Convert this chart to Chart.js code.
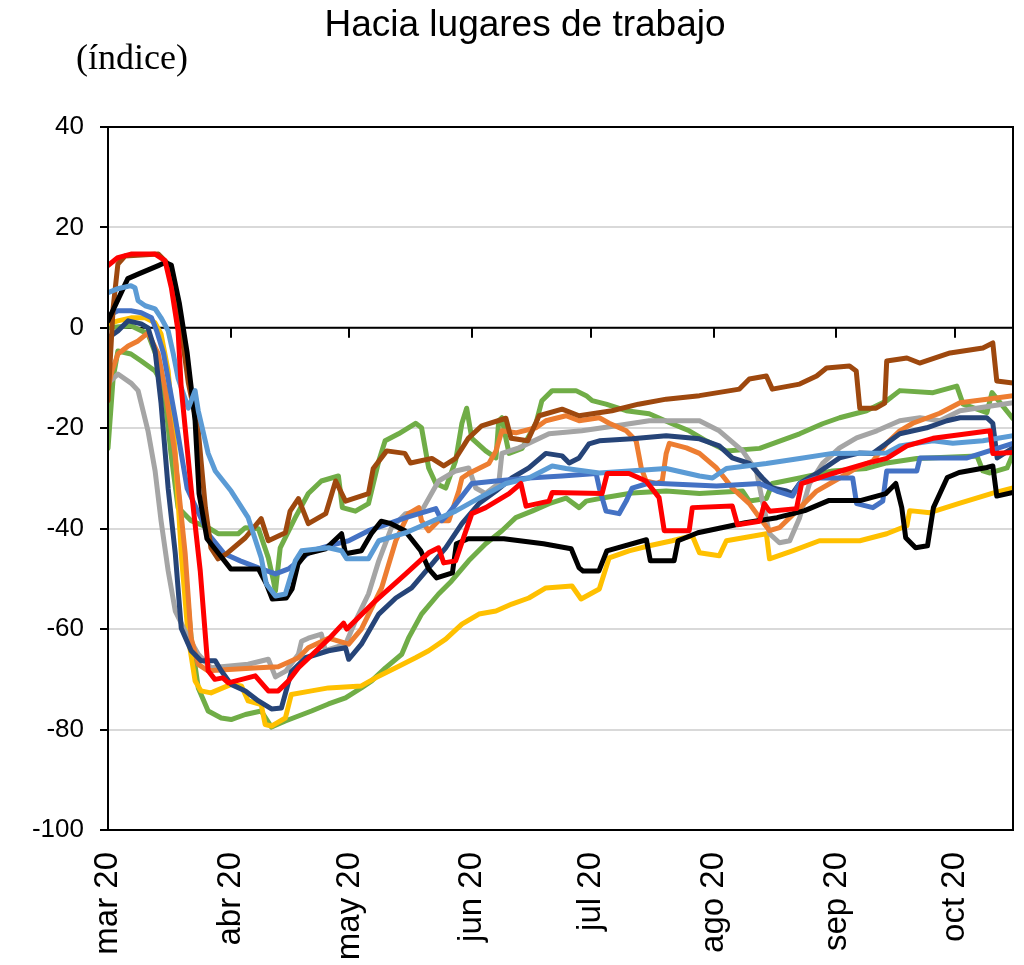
<!DOCTYPE html>
<html>
<head>
<meta charset="utf-8">
<script src="https://cdn.jsdelivr.net/npm/chart.js@4.4.0/dist/chart.umd.min.js"></script>
<style>
  body { margin: 0; background: #fff; }
  #wrap { width: 1024px; height: 965px; position: relative; }
</style>
</head>
<body>
<div id="wrap"><canvas id="grafico"></canvas></div>
<script>
// Eje x: días desde el 1 de marzo de 2020
const inicioMes = [0, 31, 61, 92, 122, 153, 184, 214];
const etiquetasMes = ['mar 20', 'abr 20', 'may 20', 'jun 20', 'jul 20', 'ago 20', 'sep 20', 'oct 20'];
const diaFinal = 228.6;
const ticksY = [40, 20, 0, -20, -40, -60, -80, -100];

// Series: [día, índice]
const rojo = [[0,12.4],[2.5,14],[5.8,14.7],[11.9,14.7],[14.4,13.4],[16,8],[17.7,-0.6],[18.5,-12],[21,-32],[23.3,-48.4],[25.3,-68.3],[27,-70],[29,-69.7],[30.4,-70.7],[37.2,-69.3],[40.5,-72.3],[43,-72.3],[45.6,-70.3],[48.1,-67.7],[55.7,-62],[59.5,-58.8],[60.3,-60],[67.5,-54.4],[75.2,-49],[81,-44.8],[83.5,-43.8],[84.8,-46.8],[87.8,-46.4],[91.9,-37],[95.4,-35.8],[101.3,-33],[104.3,-31],[105.6,-35.5],[111.4,-34.5],[112.2,-32.8],[124.8,-33],[126.1,-29],[131.6,-29],[135.9,-30.5],[139.2,-33.8],[140.5,-40.4],[146.8,-40.4],[147.6,-35.8],[157.7,-35.5],[159,-39.2],[164.6,-38.5],[165.8,-35],[167.1,-36.5],[173.9,-36],[175.2,-31],[183,-29],[191.6,-27],[196.7,-26],[201.8,-23.5],[208.4,-22],[222.8,-20.5],[223.5,-25],[228.6,-24.8]];
const celeste = [[0,7],[2.5,7.8],[5.8,8.4],[6.8,8],[7.6,5.4],[9.4,4.4],[11.9,3.8],[13.4,2],[15.2,-0.6],[16.5,-5.2],[17.7,-10],[20.3,-16],[22,-12.5],[22.8,-16.5],[25.3,-25],[27.1,-28.5],[31.1,-32.5],[35.4,-37.8],[38.7,-45.8],[40,-51],[42.3,-53.4],[44.8,-53],[47.3,-46.4],[48.9,-44.4],[55.7,-43.8],[59,-44.4],[60.3,-46],[65.8,-46],[68.4,-42.4],[75.2,-40.8],[81,-38.8],[87.8,-36.5],[93.7,-33.9],[100.5,-31],[106.3,-29.9],[112.2,-27.5],[115.7,-28],[124.1,-28.9],[141,-28],[149.4,-29.5],[152.7,-29.9],[156.2,-28],[166.3,-27],[174.7,-26],[183,-25],[196.7,-24.9],[200,-23.5],[208.4,-22.5],[213.4,-23],[221,-22.5],[228.6,-21.5]];
const negro = [[0,1.4],[5,9.8],[7.6,10.7],[12.7,12.4],[14.4,13],[16,12.5],[18,5],[20,-5],[22,-18.5],[23,-33],[25,-42],[28,-45],[31,-48],[38,-48],[40,-51],[41.5,-54],[45,-53.8],[46.5,-52],[48,-47],[50,-45],[55,-44],[59,-41],[60,-45],[64,-44.4],[66.5,-41],[69,-38.5],[71.5,-39],[75,-40.4],[79,-44.4],[81,-48],[83,-49.8],[87,-48.8],[88,-43],[91,-42],[100,-42],[110,-43],[117,-44],[119,-47.8],[120,-48.4],[124,-48.4],[126,-44.4],[136,-42.2],[137,-46.4],[143,-46.4],[144,-42.4],[149,-40.8],[161,-38.8],[169,-37.8],[176,-36.4],[182,-34.4],[190,-34.4],[196.5,-33],[199,-31],[200.5,-35.8],[201.5,-41.8],[204,-43.8],[207,-43.4],[208.5,-35.8],[212,-29.8],[215,-28.8],[222,-27.8],[223.5,-27.5],[224.5,-33.5],[228.6,-32.8]];
const marron = [[0,-14.5],[1.3,4],[2.5,12.7],[4.3,14.3],[12.7,14.7],[15.2,12.7],[17,8],[18.5,-0.6],[20.3,-11],[22.8,-20.5],[24.6,-35.8],[26,-43.8],[27.8,-46],[29.9,-45],[34.7,-41.8],[38.7,-38],[40.5,-42.4],[44.8,-40.8],[46,-36.5],[48.1,-34],[50.6,-39],[55,-37],[57.5,-30.5],[60,-34.5],[65.8,-33],[67,-28],[70.4,-24.5],[75,-25],[76.4,-26.9],[81.8,-26],[84.8,-27.5],[87.8,-26],[91,-22],[94.4,-19.5],[100.5,-18],[101.8,-22],[106,-22.5],[108.9,-17.5],[114.7,-16.2],[119,-17.5],[127.3,-16.5],[134,-15.2],[141,-14.2],[149.4,-13.5],[159.5,-12.2],[162,-10.2],[166.3,-9.6],[167.8,-12.2],[174.7,-11.2],[179,-9.6],[181.5,-8],[187.3,-7.6],[189,-8.6],[189.9,-16],[194,-16],[196.2,-15],[196.7,-6.6],[201.8,-6],[205,-7],[212.7,-5],[221,-4],[223.5,-3],[224.5,-10.6],[228.6,-11]];
const azul = [[0,2.4],[2.5,3.4],[5.8,3.4],[8.4,3],[11,2],[12.3,-0.6],[14,-5],[17,-18],[20,-32],[25.3,-41],[29.4,-45],[33.4,-46.4],[38,-47.8],[42.3,-49],[45.6,-48],[51.4,-44.4],[55.7,-43.4],[60.8,-42.4],[65.8,-40.4],[70.9,-39],[75.2,-37.8],[82.8,-36],[84.3,-38.4],[86,-37],[91.9,-31],[98,-30.5],[106.3,-29.9],[114.7,-29.5],[123.3,-29],[124.1,-31.9],[125.8,-36.5],[129.1,-37],[130.9,-34.5],[132.4,-31.9],[136.7,-30.9],[153.7,-31.5],[164.6,-31],[168.9,-32.5],[172.9,-33.5],[174.7,-31],[179,-29.9],[188.1,-29.9],[189.1,-35],[193.2,-35.8],[195.7,-34.5],[196.7,-28.5],[204.3,-28.5],[205.1,-25.9],[217,-25.9],[228.6,-23]];
const marino = [[0,-2],[2.5,-0.6],[5.1,1.4],[8.4,0.8],[10.1,0],[11.9,-4.6],[13.4,-15],[15.2,-32],[17,-45],[18.5,-59.8],[21,-64.3],[23.5,-66.3],[27.1,-66.3],[28.6,-68.3],[31.1,-71],[34.7,-72.3],[38,-74.3],[41.3,-75.9],[43.8,-75.7],[46.3,-68.5],[49.9,-65.7],[55.7,-64.3],[60,-63.7],[60.8,-66],[64,-63],[68.4,-57],[72.7,-53.8],[76.7,-51.8],[81,-47.8],[85.3,-43.8],[89.4,-39],[93.7,-35],[98,-32.5],[102,-29.9],[106.3,-27.9],[110.6,-25],[114.7,-25.5],[116.5,-26.9],[119,-25.9],[121.5,-23.1],[124.1,-22.5],[132.4,-22.1],[141,-21.5],[149.4,-22.1],[154.4,-23.5],[157.7,-25.9],[162,-27],[165.3,-29.9],[167.8,-31.9],[171.4,-32.5],[172.9,-33],[174.7,-31],[179,-29],[184.8,-25.9],[189.9,-24.9],[193.2,-25],[196.7,-23],[200,-21.1],[206.8,-19.9],[211.9,-18.5],[215.2,-17.9],[222,-17.9],[223.5,-19],[224.6,-25.9],[228.6,-23.9]];
const naranja = [[0,-12],[1,-8.6],[2.5,-5.2],[5.1,-3.6],[7.6,-2.6],[10.1,-1],[12.7,-5.2],[14.4,-12],[16.9,-25],[19.5,-45],[21,-61.8],[22.8,-67],[25.3,-68.3],[38,-67.7],[43,-67.5],[48.1,-65.7],[50.6,-63.7],[55.7,-61.8],[60.8,-63],[64,-60],[69.1,-51.8],[72.7,-42.4],[75.9,-37],[78.5,-35.8],[79.2,-38.4],[81,-40.4],[83.5,-38.4],[86.1,-38.4],[88.6,-32.5],[89.4,-29.9],[91.1,-29],[96.2,-27],[98,-24.5],[99.5,-20.5],[103,-20.9],[108.1,-19.9],[110.6,-18.5],[115.7,-17.5],[119,-18.5],[124.1,-17.9],[126.6,-19],[130.9,-20.5],[133.4,-22.5],[134.7,-27.9],[135.9,-30.5],[138.5,-31],[140,-30.5],[141,-25],[141.8,-23],[146.1,-23.9],[149.4,-25],[153.7,-27.9],[157.7,-31.9],[162,-35],[164.6,-37.8],[167.1,-40.4],[169.6,-39.8],[173.9,-36.5],[179,-32.5],[184.8,-29.9],[189.1,-27.9],[193.2,-26.5],[196.7,-23],[200,-20.5],[203.3,-19],[210.1,-17],[215.2,-14.9],[222,-14.2],[228.6,-13.5]];
const gris = [[0,-11],[2.5,-9.2],[5.8,-11],[7.6,-12.5],[10.1,-20.5],[11.9,-28.5],[13.4,-38.4],[15.2,-48.4],[17,-56.4],[19.5,-60.4],[22.8,-65],[26,-67.7],[35.4,-67],[40.5,-66],[42.3,-69.5],[45,-68.3],[48.1,-65],[48.9,-62.4],[50.6,-61.8],[53.9,-61],[54.9,-64.3],[60,-63],[62.5,-58.4],[65.8,-53],[68.4,-46.4],[71.6,-39.8],[75.2,-37],[79.2,-36.5],[83.5,-30.5],[87.8,-28.5],[91.1,-27.9],[92.9,-31.9],[95.4,-33],[98.7,-31],[99.5,-25],[103.8,-23.9],[111.4,-21.1],[119.7,-20.5],[128.4,-19.5],[136.7,-18.5],[149.4,-18.5],[154.4,-20.5],[160.3,-24.5],[163.8,-28.5],[165.3,-34.5],[167.1,-41],[169.6,-42.8],[172.2,-42.4],[174.7,-37.8],[177.2,-31],[180.5,-27],[184.8,-23.9],[189.1,-21.9],[194.2,-20.5],[200,-18.5],[205.1,-17.9],[210.1,-18.5],[215.2,-16.5],[223.5,-15.5],[228.6,-14.9]];
const amarillo = [[0,0.8],[2.5,1.4],[5.8,2],[9.4,2],[11.9,1],[13.4,-1.2],[15.2,-8.6],[17,-25],[18.5,-45],[20.3,-61.8],[22,-70.3],[23.5,-72.3],[26,-72.7],[31.1,-71],[33.7,-71.3],[35.4,-74.3],[38.7,-75],[39.7,-79],[41.3,-79.3],[44.8,-77.7],[46.3,-73],[51.4,-72.3],[55.7,-71.7],[64,-71.3],[67.6,-69.7],[72.7,-67.7],[77.7,-65.7],[81,-64.3],[85.3,-62],[89.4,-59],[93.7,-57],[98,-56.4],[102,-55],[106.3,-53.8],[110.6,-51.8],[117.2,-51.4],[119.5,-54],[124.1,-52],[126.6,-45.8],[131.6,-44.4],[136.7,-43.4],[142.5,-42.4],[147.6,-41.4],[149.4,-44.8],[154.4,-45.4],[156.2,-42.4],[166.3,-41],[167.1,-46],[172.9,-44.4],[179.7,-42.4],[189.9,-42.4],[196.7,-41],[201.8,-39.4],[202.5,-36.4],[207.6,-36.8],[215.2,-34.9],[223.5,-32.9],[228.6,-31.9]];
const verdeA = [[0,0],[5.8,0.4],[10.1,-1.2],[12.7,-6.6],[14.4,-14],[15.9,-25],[17.7,-35.8],[21,-38.4],[25.3,-39.8],[27.8,-41],[32.9,-41],[34.7,-39.8],[38,-40],[40.5,-45.8],[41.8,-50.4],[42.3,-52.4],[43.5,-43.8],[47.3,-37.8],[50.6,-33],[53.9,-30.5],[58.2,-29.5],[59.2,-35.8],[62.5,-36.5],[65.8,-35],[68.4,-26.5],[70,-22.5],[73.4,-21.1],[77.7,-19],[79.2,-19.9],[81,-27.9],[82.8,-31],[85.3,-31.9],[87.8,-26.5],[89.4,-19],[90.6,-16],[91.9,-22],[95.4,-24.5],[98,-25.9],[98.7,-18.5],[99.5,-17.9],[100.5,-22],[101.3,-25],[104.6,-24],[108.1,-19],[109.6,-14.5],[112.2,-12.5],[118.2,-12.5],[120.8,-13.5],[122.3,-14.5],[125.8,-15.2],[130.9,-16.5],[136.7,-17.1],[142.5,-19.1],[146.8,-20.5],[151.1,-22.5],[156.2,-24.5],[164.6,-24],[174.7,-21.1],[180.5,-19.1],[184.8,-17.9],[191.6,-16.5],[196.7,-14.5],[200,-12.5],[208.4,-12.9],[214.4,-11.6],[216,-15.2],[222,-16.9],[223.3,-12.9],[228.6,-18.1]];
const verdeB = [[0,-24],[1.3,-10],[2.5,-4.6],[5.8,-5.2],[8.4,-6.6],[11.9,-8.6],[14.4,-12],[16,-18.5],[17.7,-32],[19.5,-48.4],[21,-61.8],[22.8,-71.7],[25.3,-76.3],[28.6,-77.7],[31.1,-78],[34.7,-77],[38.7,-76.3],[41.3,-79.5],[44.8,-78.3],[51.4,-76.3],[55.7,-74.9],[60,-73.7],[64,-71.7],[66.6,-70.3],[70.1,-67.7],[74.2,-65],[75.9,-61.8],[79.2,-57],[83.5,-53],[86.8,-50.4],[91.1,-46.4],[95.4,-43],[99.5,-40.4],[103,-37.8],[107.1,-36.5],[111.4,-35],[115.7,-33.9],[119,-35.8],[120.8,-34.5],[124.1,-34],[132.4,-32.9],[141,-32.5],[149.4,-33],[160.3,-32.5],[162,-34.5],[166.3,-34],[167.8,-31],[174.7,-29.9],[183,-28.5],[191.6,-28],[196.7,-26.9],[204.3,-26],[219.5,-25.5],[221,-28.5],[222.8,-28.9],[227.1,-27.9],[228.6,-25.1]];

const series = [
  { datos: rojo, color: '#FF0000' },
  { datos: celeste, color: '#5B9BD5' },
  { datos: negro, color: '#000000' },
  { datos: marron, color: '#9E480E' },
  { datos: azul, color: '#4472C4' },
  { datos: marino, color: '#264478' },
  { datos: naranja, color: '#ED7D31' },
  { datos: gris, color: '#A5A5A5' },
  { datos: amarillo, color: '#FFC000' },
  { datos: verdeA, color: '#70AD47' },
  { datos: verdeB, color: '#70AD47' }
];

// Textos, eje en cero y marco del gráfico
const decorado = {
  id: 'decorado',
  beforeDatasetsDraw(chart) {
    const { ctx, chartArea, scales } = chart;
    const y0 = scales.y.getPixelForValue(0);
    ctx.save();
    ctx.strokeStyle = '#000';
    ctx.lineWidth = 2;
    ctx.beginPath();
    ctx.moveTo(chartArea.left, y0);
    ctx.lineTo(chartArea.right, y0);
    inicioMes.forEach(d => {
      const x = Math.round(scales.x.getPixelForValue(d));
      ctx.moveTo(x, y0);
      ctx.lineTo(x, y0 + 10);
    });
    ctx.stroke();
    ctx.restore();
  },
  afterDraw(chart) {
    const { ctx, chartArea } = chart;
    ctx.save();
    ctx.strokeStyle = '#000';
    ctx.lineWidth = 2;
    ctx.strokeRect(chartArea.left, chartArea.top, chartArea.right - chartArea.left, chartArea.bottom - chartArea.top);
    ctx.fillStyle = '#000';
    ctx.textBaseline = 'middle';
    ctx.textAlign = 'center';
    ctx.font = '37px "Liberation Sans"';
    ctx.fillText('Hacia lugares de trabajo', 525, 26);
    ctx.textAlign = 'left';
    ctx.font = '36px "Liberation Serif"';
    ctx.fillText('(índice)', 76, 60);
    ctx.restore();
  }
};

new Chart(document.getElementById('grafico'), {
  type: 'line',
  data: {
    datasets: series.map(s => ({
      data: s.datos.map(p => ({ x: p[0], y: p[1] })),
      borderColor: s.color,
      borderWidth: 5,
      pointRadius: 0,
      borderJoinStyle: 'round',
      borderCapStyle: 'round',
      tension: 0,
      fill: false
    }))
  },
  options: {
    responsive: true,
    maintainAspectRatio: false,
    animation: false,
    layout: { padding: { top: 127, right: 11, left: 0, bottom: 0 } },
    plugins: { legend: { display: false }, tooltip: { enabled: false } },
    scales: {
      x: {
        type: 'linear',
        min: 0,
        max: diaFinal,
        afterBuildTicks: scale => { scale.ticks = inicioMes.map(v => ({ value: v })); },
        afterFit: scale => { scale.height = 135; },
        grid: { display: false, drawTicks: false },
        border: { display: true, color: '#000', width: 2 },
        ticks: {
          autoSkip: false,
          minRotation: 90,
          maxRotation: 90,
          padding: 22,
          color: '#000',
          font: { family: 'Liberation Sans', size: 33 },
          callback: v => etiquetasMes[inicioMes.indexOf(v)]
        }
      },
      y: {
        min: -100,
        max: 40,
        afterBuildTicks: scale => { scale.ticks = ticksY.map(v => ({ value: v })); },
        afterFit: scale => { scale.width = 108; },
        grid: { color: '#d9d9d9', lineWidth: 2, tickLength: 8, tickColor: '#000' },
        border: { display: true, color: '#000', width: 2 },
        ticks: {
          padding: 16,
          color: '#000',
          font: { family: 'Liberation Sans', size: 26 },
          callback: v => String(v)
        }
      }
    }
  },
  plugins: [decorado]
});
</script>
</body>
</html>
